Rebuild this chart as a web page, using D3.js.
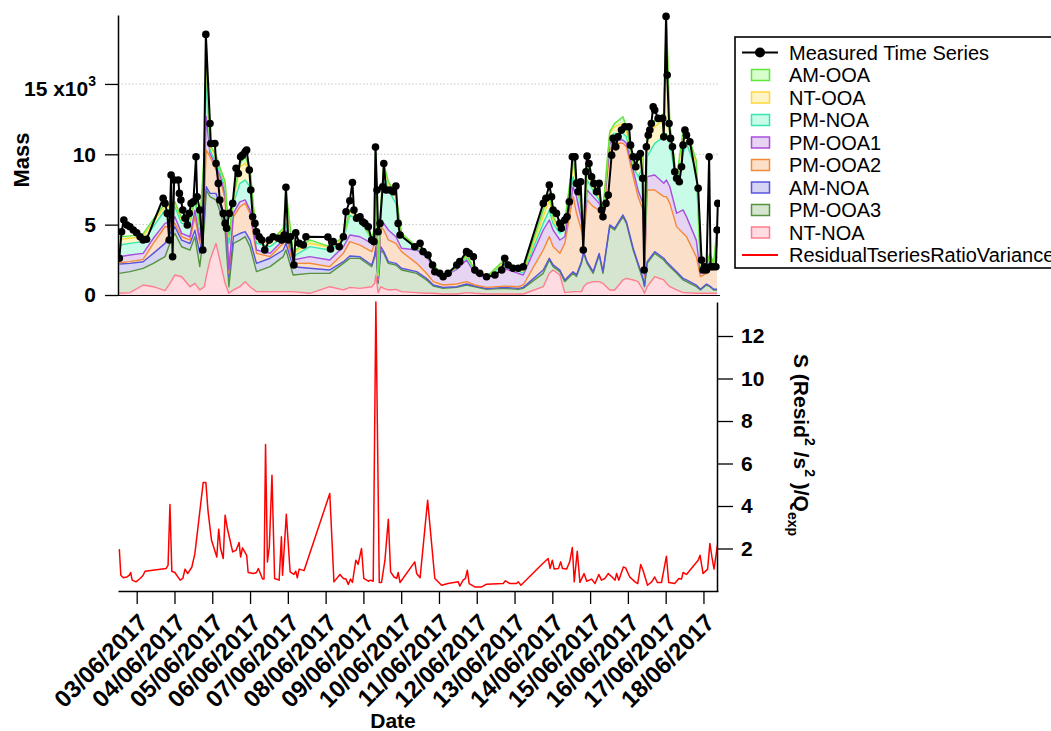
<!DOCTYPE html>
<html><head><meta charset="utf-8">
<script src="https://cdn.jsdelivr.net/npm/d3@7"></script>
<style>
body{margin:0;background:#fff;}
svg{display:block;background:#fff;}
text{font-family:"Liberation Sans",Arial,Helvetica,sans-serif;}
</style></head><body>
<svg id="chart" width="1051" height="731"></svg>
<script>
// ---------------- DATA ----------------
const dateTickLabels = ["03/06/2017","04/06/2017","05/06/2017","06/06/2017","07/06/2017","08/06/2017","09/06/2017","10/06/2017","11/06/2017","12/06/2017","13/06/2017","14/06/2017","15/06/2017","16/06/2017","17/06/2017","18/06/2017"];
const massTicks = [0, 5, 10, 15];
const residTicks = [2, 4, 6, 8, 10, 12];

// time (day of June 2017, fractional) for factor contributions
const layerDays = [2.54,2.82,3.17,3.44,3.75,3.88,4.01,4.19,4.41,4.54,
4.67,4.79,4.84,4.94,5.10,5.22,5.34,5.44,5.56,5.73,
5.87,6.00,6.17,6.53,6.88,6.95,7.14,7.58,8.11,8.47,
8.64,8.91,9.22,9.30,9.33,9.39,9.46,9.54,9.66,9.86,
10.01,10.41,10.67,10.85,11.11,11.47,11.73,11.95,12.26,12.74,
13.10,13.23,13.76,13.92,14.02,14.20,14.33,14.55,14.64,14.77,
14.83,14.92,15.08,15.24,15.34,15.52,15.65,15.87,15.96,16.14,
16.27,16.40,16.44,16.51,16.71,16.95,17.02,17.11,17.29,17.46,
17.55,17.81,17.92,18.08,18.17,18.27,18.36];

// factor mass (x10^3)
const ntNOA = [0.12,0.17,0.71,0.59,0.31,0.83,1.42,1.30,0.59,0.83,
0.36,0.59,1.30,2.49,3.67,2.25,0.83,0.12,0.36,0.59,
0.95,0.59,0.24,0.24,0.24,0.24,0.24,0.12,0.59,0.36,
0.54,0.47,0.59,0.83,1.42,0.17,0.59,0.47,0.36,0.40,
0.24,0.17,0.12,0.12,0.07,0.07,0.17,0.12,0.07,0.07,
0.07,0.07,0.59,1.54,1.78,1.42,0.17,0.24,0.24,0.24,
0.59,0.83,0.95,0.95,0.83,0.36,0.36,1.07,1.18,1.07,
0.95,0.36,0.12,0.59,1.30,1.07,0.83,0.59,0.36,0.17,
0.17,0.12,0.12,0.12,0.12,0.12,0.12];
const pmOOA3 = [1.42,1.49,1.18,1.66,2.41,2.84,2.96,2.13,2.60,3.31,
1.66,4.26,6.16,4.50,3.08,3.55,3.79,0.47,3.31,3.31,
3.20,2.84,1.42,1.78,2.49,2.96,1.18,1.42,0.95,1.89,
2.06,2.13,1.42,1.89,1.89,0.66,2.60,2.49,1.89,1.73,
1.54,1.37,0.95,0.52,0.40,0.47,0.54,0.47,0.33,0.40,
0.33,0.40,0.95,0.95,0.24,0.24,0.78,1.30,1.07,2.01,
2.37,1.42,0.59,1.89,0.71,4.50,4.26,4.50,3.91,2.13,
1.18,0.71,0.47,1.66,1.66,1.42,1.42,1.42,1.18,0.90,
0.78,0.47,0.24,0.59,0.47,0.24,0.24];
const amNOA = [0.66,0.59,0.47,0.71,0.95,0.71,0.47,0.47,0.47,0.47,
0.95,0.71,0.24,0.24,0.47,0.47,0.71,0.71,0.47,0.47,
0.36,0.47,0.59,0.59,0.47,0.47,0.59,0.36,0.24,0.12,
0.17,0.12,0.12,0.12,0.12,0.12,0.24,0.12,0.12,0.12,
0.12,0.12,0.12,0.07,0.07,0.05,0.07,0.05,0.05,0.07,
0.07,0.07,0.24,0.12,0.12,0.12,0.12,0.12,0.12,0.12,
0.12,0.12,0.12,0.12,0.12,0.12,0.12,0.12,0.12,0.12,
0.12,0.12,0.05,0.12,0.12,0.12,0.12,0.12,0.12,0.12,
0.12,0.12,0.05,0.07,0.05,0.05,0.05];
const pmOOA2 = [0.09,0.12,0.17,0.71,1.18,0.47,0.24,0.24,0.24,0.95,
0.71,1.42,2.60,2.60,1.66,1.89,1.42,0.24,1.42,1.89,
2.01,1.89,0.71,0.12,0.47,0.47,0.24,0.36,0.24,0.59,
1.02,0.83,0.95,0.83,1.42,0.12,1.42,1.54,1.54,1.42,
1.18,0.59,0.36,0.24,0.17,0.19,0.17,0.07,0.09,0.09,
0.12,0.17,1.42,1.54,1.30,1.18,2.60,5.33,4.38,2.25,
0.83,4.38,4.62,3.08,3.67,5.33,6.04,5.09,5.33,5.09,
4.73,4.85,0.66,5.09,4.38,4.38,4.62,4.38,3.20,3.20,
3.08,2.01,0.90,0.76,1.61,1.37,2.32];
const pmOOA1 = [0.43,0.47,0.43,0.36,0.24,0.36,0.47,0.24,0.24,0.47,
0.24,0.71,2.37,0.24,0.24,0.24,0.36,0.24,0.24,0.36,
0.24,0.24,0.24,0.24,0.24,0.47,0.24,0.47,0.47,0.47,
0.47,0.59,0.59,0.24,0.47,0.12,0.24,0.47,0.71,0.47,
0.24,0.95,1.18,1.07,0.59,1.04,1.54,0.83,0.64,1.25,
0.95,0.71,1.42,1.18,1.18,0.95,0.47,0.71,1.18,0.71,
0.24,0.71,0.71,0.47,0.24,0.47,0.24,0.24,0.24,0.47,
0.47,0.47,0.12,0.95,1.07,0.95,1.18,1.18,0.95,1.66,
1.42,1.18,0.24,0.24,0.12,0.24,0.95];
const pmNOA = [0.83,0.83,0.83,0.83,0.95,0.83,0.71,0.71,0.95,0.71,
0.71,1.42,2.84,0.24,0.24,0.24,0.47,1.89,0.71,1.30,
1.42,1.66,0.47,0.47,0.24,0.47,0.24,0.71,0.71,0.47,
1.42,1.18,0.24,0.71,4.26,0.12,0.95,3.55,2.84,2.37,
0.83,0.12,0.12,0.09,0.05,0.09,0.19,0.12,0.07,0.36,
0.14,0.17,0.47,0.71,0.47,0.47,0.71,0.71,0.71,0.71,
0.24,0.71,0.47,0.24,0.24,0.47,0.47,0.47,0.47,0.24,
0.95,2.60,0.12,1.42,2.25,3.31,3.31,3.08,2.13,4.02,
5.21,4.97,0.47,0.24,0.36,0.12,0.24];
const ntOOA = [0.40,0.36,0.36,0.36,0.24,0.24,0.24,0.24,0.24,0.12,
0.24,0.71,1.66,0.24,0.47,0.24,0.36,0.47,0.24,1.18,
1.18,1.18,0.24,0.24,0.47,0.95,0.24,0.24,0.19,0.12,
0.24,0.12,0.05,0.12,0.47,0.12,0.24,0.47,0.47,0.47,
0.12,0.07,0.05,0.02,0.02,0.05,0.09,0.07,0.02,0.19,
0.07,0.09,0.47,0.71,0.24,0.24,0.24,0.95,0.12,0.24,
0.12,0.71,0.12,0.24,0.12,0.24,0.47,0.71,0.47,0.24,
0.71,0.71,0.12,1.42,1.18,1.18,7.81,1.18,0.24,1.18,
0.71,0.47,0.12,0.07,0.12,0.07,0.47];
const amOOA = [0.19,0.17,0.19,0.17,0.24,0.12,0.12,0.12,0.12,0.12,
0.12,0.47,0.95,0.12,0.12,0.05,0.12,0.12,0.12,0.24,
0.47,0.12,0.12,0.12,0.12,1.42,0.12,0.24,0.05,0.12,
0.12,0.12,0.05,0.12,0.24,0.12,0.24,0.24,0.12,0.24,
0.12,0.05,0.07,0.02,0.02,0.05,0.07,0.05,0.02,0.09,
0.07,0.09,0.47,0.47,0.24,0.12,0.12,0.47,0.12,0.24,
0.12,0.47,0.12,0.24,0.12,0.12,0.24,0.47,0.24,0.12,
0.47,0.24,0.12,0.24,0.47,0.47,0.59,0.24,0.12,0.47,
0.24,0.24,0.12,0.05,0.12,0.05,0.47];

// measured time series (x10^3)
const measDays = [2.54,2.60,2.66,2.74,2.82,2.91,3.00,3.09,3.17,3.26,
3.70,3.75,3.81,3.86,3.91,3.95,3.99,4.10,4.13,4.17,
4.22,4.28,4.34,4.39,4.44,4.50,4.57,4.60,4.67,4.75,
4.83,4.94,4.96,5.07,5.10,5.16,5.20,5.29,5.34,5.38,
5.45,5.54,5.63,5.69,5.75,5.80,5.87,5.91,5.98,6.02,
6.07,6.13,6.17,6.24,6.31,6.39,6.51,6.61,6.75,6.84,
6.90,6.95,7.01,7.07,7.16,7.21,7.30,7.41,7.48,8.06,
8.13,8.20,8.36,8.47,8.54,8.64,8.71,8.75,8.82,8.91,
8.98,9.04,9.13,9.22,9.28,9.32,9.36,9.39,9.44,9.51,
9.54,9.60,9.70,9.79,9.86,9.92,9.97,10.36,10.50,10.58,
10.71,10.83,10.89,11.02,11.11,11.24,11.47,11.55,11.73,11.80,
11.91,11.95,12.08,12.26,12.48,12.66,12.74,12.83,12.96,13.10,
13.23,13.76,13.83,13.92,13.98,14.02,14.11,14.20,14.24,14.33,
14.39,14.45,14.53,14.60,14.64,14.68,14.75,14.82,14.89,14.92,
14.97,15.04,15.10,15.17,15.24,15.30,15.34,15.42,15.48,15.57,
15.61,15.68,15.74,15.83,15.92,16.03,16.07,16.14,16.21,16.27,
16.33,16.39,16.43,16.49,16.54,16.58,16.62,16.67,16.71,16.80,
16.92,16.95,17.01,17.04,17.09,17.13,17.18,17.24,17.29,17.36,
17.42,17.46,17.51,17.55,17.64,17.86,17.95,17.99,18.03,18.08,
18.15,18.19,18.25,18.33,18.36,18.38];
const measMass = [2.61,4.50,5.33,4.97,4.85,4.62,4.42,4.14,3.91,3.96,
6.87,6.51,5.80,3.91,8.52,2.72,8.17,8.17,7.22,6.75,
6.04,5.45,4.97,5.80,6.51,6.63,9.82,6.98,6.04,3.20,
18.52,12.19,10.77,10.77,9.35,7.93,6.75,5.80,5.09,4.74,
5.80,6.51,9.00,8.64,9.82,9.94,10.18,10.30,8.88,7.46,
5.56,5.09,4.50,4.14,3.91,3.20,3.91,4.14,4.03,3.91,
4.26,7.65,3.91,4.14,2.13,4.42,3.67,3.55,4.14,4.12,
3.27,3.79,3.43,4.14,5.92,6.70,8.00,6.04,5.45,5.56,
5.21,5.09,4.85,3.91,3.79,10.51,7.46,4.50,5.09,7.69,
9.35,7.46,7.46,7.34,7.74,5.09,4.26,3.43,3.67,3.08,
2.84,2.13,1.65,1.54,1.30,1.54,2.13,2.37,3.08,2.96,
2.72,1.78,1.54,1.30,1.42,1.78,2.61,2.13,1.90,1.90,
2.01,6.51,6.87,7.81,6.98,6.04,5.80,5.09,4.74,5.33,
5.56,6.63,9.82,9.82,7.93,7.34,8.05,3.20,8.76,9.87,
9.35,8.40,7.93,7.34,7.93,6.04,5.56,6.51,7.10,9.94,
11.13,10.53,11.24,11.72,11.95,11.95,10.65,9.82,9.11,9.82,
10.06,8.29,1.78,10.53,11.36,11.72,12.19,13.37,13.14,12.55,
12.55,11.24,19.80,15.63,12.19,11.13,10.53,8.76,8.29,8.05,
9.11,10.65,11.72,11.36,10.89,7.58,2.49,1.78,2.01,1.78,
9.82,2.01,2.01,2.01,4.62,6.51];

// residual ratio variance
const residDays = [2.54,2.58,2.65,2.74,2.80,2.84,2.88,2.98,3.09,3.17,
3.22,3.78,3.83,3.88,3.93,4.01,4.15,4.22,4.28,4.35,
4.46,4.54,4.76,4.83,4.89,4.98,5.12,5.17,5.22,5.29,
5.34,5.40,5.54,5.63,5.71,5.75,5.80,5.91,5.95,6.09,
6.17,6.22,6.33,6.37,6.41,6.46,6.51,6.58,6.65,6.77,
6.83,6.86,6.96,7.06,7.16,7.21,7.25,7.30,7.43,8.11,
8.22,8.38,8.47,8.54,8.60,8.66,8.71,8.80,8.86,8.95,
9.01,9.13,9.19,9.26,9.33,9.42,9.48,9.57,9.66,9.72,
9.81,9.88,9.92,9.97,10.36,10.41,10.50,10.70,10.76,10.89,
11.07,11.24,11.51,11.55,11.64,11.70,11.75,11.80,11.95,12.13,
12.26,12.70,12.76,12.88,13.05,13.10,13.17,13.72,13.89,13.94,
14.00,14.05,14.16,14.22,14.27,14.38,14.42,14.46,14.53,14.58,
14.66,14.73,14.84,14.91,15.04,15.13,15.23,15.30,15.39,15.48,
15.58,15.66,15.70,15.76,15.88,15.94,16.05,16.19,16.26,16.34,
16.40,16.52,16.63,16.71,16.78,16.89,17.02,17.08,17.24,17.35,
17.42,17.46,17.55,17.86,17.91,17.99,18.11,18.17,18.23,18.28,
18.37];
const residVal = [1.97,0.74,0.62,0.66,0.74,0.87,0.51,0.43,0.59,0.74,
0.93,1.06,1.21,4.07,0.93,0.87,0.51,0.59,1.03,0.82,
1.13,1.76,5.11,5.11,3.72,2.39,1.60,2.91,2.00,1.53,
3.57,2.94,1.84,1.92,2.28,1.60,2.03,1.68,0.87,0.82,
0.87,1.06,0.56,0.56,6.89,1.37,2.08,5.45,0.59,0.51,
2.55,0.74,3.61,0.90,0.78,0.93,0.62,1.03,0.96,4.59,
0.43,0.78,0.59,0.56,0.31,0.56,0.40,1.45,1.25,2.00,
0.59,0.46,0.51,0.46,13.6,0.40,0.40,1.45,3.38,0.90,
0.66,0.59,0.87,0.40,1.37,0.82,0.62,4.27,3.10,0.59,
0.27,0.35,0.43,0.23,0.51,0.59,0.98,0.35,0.19,0.19,
0.32,0.35,0.48,0.35,0.35,0.43,0.27,1.25,1.53,1.06,
1.45,1.03,1.06,1.37,1.06,1.03,1.21,1.37,2.05,0.43,
1.87,0.40,0.82,0.46,0.56,0.35,0.78,0.51,0.59,0.82,
0.66,0.51,0.82,0.51,1.13,1.09,0.66,0.43,0.35,1.25,
0.98,0.27,0.43,0.66,0.40,0.40,1.64,0.40,0.35,0.59,
0.56,0.87,0.78,1.45,1.68,0.82,1.03,2.24,1.53,1.03,
2.16];

// ---------------- STYLE ----------------
const layerStyle = [
  {key:"ntNOA",  name:"NT-NOA",  vals:ntNOA,  fill:"#ffdbe2", stroke:"#ff7d8f"},
  {key:"pmOOA3", name:"PM-OOA3", vals:pmOOA3, fill:"#d6e5cf", stroke:"#55933f"},
  {key:"amNOA",  name:"AM-NOA",  vals:amNOA,  fill:"#d5d5f3", stroke:"#5555dd"},
  {key:"pmOOA2", name:"PM-OOA2", vals:pmOOA2, fill:"#fcdfc8", stroke:"#f38a3a"},
  {key:"pmOOA1", name:"PM-OOA1", vals:pmOOA1, fill:"#e6d4f2", stroke:"#a94ddc"},
  {key:"pmNOA",  name:"PM-NOA",  vals:pmNOA,  fill:"#c9fbe9", stroke:"#33e8b0"},
  {key:"ntOOA",  name:"NT-OOA",  vals:ntOOA,  fill:"#fff4c6", stroke:"#ffd83a"},
  {key:"amOOA",  name:"AM-OOA",  vals:amOOA,  fill:"#d6ffcc", stroke:"#5ee63a"}
];
const FONT = '"Liberation Sans",Arial,Helvetica,sans-serif';

// ---------------- CHART ----------------
const svg = d3.select("#chart");
const dayMs = 864e5;
const toDate = d => new Date(Date.UTC(2017, 5, 1) + (d - 1) * dayMs);
const parseTick = d3.utcParse("%d/%m/%Y");

const X0 = 118, X1 = 718;
const x = d3.scaleUtc().domain([toDate(2.505), toDate(18.385)]).range([X0, X1]);
const yT = d3.scaleLinear().domain([0, 19.9]).range([295, 15]);
const yB = d3.scaleLinear().domain([0, 13.6]).range([591, 302]);

const defs = svg.append("defs");
defs.append("clipPath").attr("id","clipTop").append("rect").attr("x",X0).attr("y",0).attr("width",X1-X0+2).attr("height",296);
defs.append("clipPath").attr("id","clipBot").append("rect").attr("x",X0).attr("y",297).attr("width",X1-X0).attr("height",296);

// gridlines (top)
svg.append("g").selectAll("line").data(massTicks.filter(d=>d>0)).join("line")
  .attr("x1", X0).attr("x2", 720).attr("y1", d=>yT(d)).attr("y2", d=>yT(d))
  .attr("stroke", "#c4c4c4").attr("stroke-width", 1).attr("stroke-dasharray", "1.5,2");

// stacked factors
const n = Math.min(layerDays.length, ...layerStyle.map(l => l.vals.length));
const rows = d3.range(n).map(i => {
  const r = {t: toDate(layerDays[i])};
  layerStyle.forEach(l => r[l.key] = l.vals[i]);
  return r;
});
const stacked = d3.stack().keys(layerStyle.map(l => l.key))(rows);
const area = d3.area().x(d => x(d.data.t)).y0(d => yT(d[0])).y1(d => yT(d[1]));
const topLine = d3.line().x(d => x(d.data.t)).y(d => yT(d[1]));

const gTop = svg.append("g").attr("clip-path","url(#clipTop)");
gTop.selectAll("path.area").data(stacked).join("path").attr("class","area")
  .attr("d", area).attr("fill", (d,i) => layerStyle[i].fill).attr("stroke","none");
gTop.selectAll("path.edge").data(stacked).join("path").attr("class","edge")
  .attr("d", topLine).attr("fill","none").attr("stroke", (d,i) => layerStyle[i].stroke)
  .attr("stroke-width", 1.4).attr("stroke-linejoin","round");

// measured series
const meas = d3.range(Math.min(measDays.length, measMass.length)).map(i => ({t: toDate(measDays[i]), v: measMass[i]}));
gTop.append("path").datum(meas)
  .attr("d", d3.line().x(d => x(d.t)).y(d => yT(d.v)))
  .attr("fill","none").attr("stroke","#000").attr("stroke-width",2).attr("stroke-linejoin","round");
gTop.selectAll("circle").data(meas).join("circle")
  .attr("cx", d => x(d.t)).attr("cy", d => yT(d.v)).attr("r", 3.8).attr("fill","#000");

// top axes
svg.append("line").attr("x1",X0).attr("x2",X1+2).attr("y1",295.5).attr("y2",295.5).attr("stroke","#000").attr("stroke-width",1.2);
const axL = svg.append("g").attr("transform",`translate(${X0},0)`)
  .call(d3.axisLeft(yT).tickValues(massTicks).tickSize(13).tickSizeOuter(0).tickPadding(9)
    .tickFormat(d => d === 15 ? "15 x10" : d));
axL.select(".domain").attr("stroke","#000").attr("stroke-width",1.5);
axL.selectAll(".tick line").attr("stroke","#000").attr("stroke-width",1.3);
axL.selectAll("text").attr("font-family",FONT).attr("font-size",21).attr("font-weight","bold").attr("fill","#000");
axL.selectAll(".tick").filter(d => d === 15).select("text").attr("dy","0.55em")
  .append("tspan").attr("font-size",14).attr("dy","-0.75em").text("3");
svg.append("text").attr("transform","translate(29,160) rotate(-90)").attr("text-anchor","middle")
  .attr("font-family",FONT).attr("font-size",22).attr("font-weight","bold").text("Mass");

// residual
const gBot = svg.append("g").attr("clip-path","url(#clipBot)");
const res = d3.range(Math.min(residDays.length, residVal.length)).map(i => ({t: toDate(residDays[i]), v: residVal[i]}));
gBot.append("path").datum(res)
  .attr("d", d3.line().x(d => x(d.t)).y(d => yB(d.v)))
  .attr("fill","none").attr("stroke","#ff0000").attr("stroke-width",1.5).attr("stroke-linejoin","round");

// bottom x axis
const axB = svg.append("g").attr("transform","translate(0,591)")
  .call(d3.axisBottom(x).tickValues(dateTickLabels.map(parseTick)).tickSize(13).tickSizeOuter(0)
    .tickFormat(d3.utcFormat("%d/%m/%Y")));
axB.select(".domain").attr("stroke","#000").attr("stroke-width",1.5);
axB.selectAll(".tick line").attr("stroke","#000").attr("stroke-width",1.3);
axB.selectAll("text").attr("font-family",FONT).attr("font-size",24).attr("font-weight","bold").attr("fill","#000")
  .attr("text-anchor","end").attr("x",12).attr("y",33).attr("dy",null)
  .attr("transform","rotate(-45,12,33)");
svg.append("text").attr("x",393).attr("y",728).attr("text-anchor","middle")
  .attr("font-family",FONT).attr("font-size",21).attr("font-weight","bold").text("Date");

// right axis
const axR = svg.append("g").attr("transform","translate(717,0)")
  .call(d3.axisRight(yB).tickValues(residTicks).tickSize(16).tickSizeOuter(0).tickPadding(8));
axR.select(".domain").attr("stroke","#000").attr("stroke-width",1.5);
axR.selectAll(".tick line").attr("stroke","#000").attr("stroke-width",1.3);
axR.selectAll("text").attr("font-family",FONT).attr("font-size",21).attr("font-weight","bold").attr("fill","#000");

const rt = svg.append("text").attr("transform","translate(794,445) rotate(90)").attr("text-anchor","middle")
  .attr("font-family",FONT).attr("font-size",21).attr("font-weight","bold");
rt.append("tspan").text("S (Resid");
rt.append("tspan").attr("font-size",14).attr("dy","-0.75em").text("2");
rt.append("tspan").attr("dy","0.5em").text(" /s");
rt.append("tspan").attr("font-size",14).attr("dy","-0.75em").text("2");
rt.append("tspan").attr("dy","0.5em").text(" )/Q");
rt.append("tspan").attr("font-size",14).attr("dy","0.45em").text("exp");

// legend
const lg = svg.append("g");
lg.append("rect").attr("x",735).attr("y",37).attr("width",330).attr("height",231)
  .attr("fill","#fff").attr("stroke","#000").attr("stroke-width",1.6);
const legendItems = [{type:"meas", name:"Measured Time Series"}]
  .concat(layerStyle.slice().reverse().map(l => ({type:"area", name:l.name, fill:l.fill, stroke:l.stroke})))
  .concat([{type:"resid", name:"ResidualTseriesRatioVariance"}]);
legendItems.forEach((it, i) => {
  const cy = 52.5 + i * 22.5;
  if (it.type === "meas") {
    lg.append("line").attr("x1",742).attr("x2",778).attr("y1",cy).attr("y2",cy).attr("stroke","#000").attr("stroke-width",2);
    lg.append("circle").attr("cx",760).attr("cy",cy).attr("r",5).attr("fill","#000");
  } else if (it.type === "area") {
    lg.append("rect").attr("x",751.5).attr("y",cy-5.5).attr("width",18).attr("height",11)
      .attr("fill",it.fill).attr("stroke",it.stroke).attr("stroke-width",1.5);
  } else {
    lg.append("line").attr("x1",742).attr("x2",778).attr("y1",cy).attr("y2",cy).attr("stroke","#ff0000").attr("stroke-width",2);
  }
  lg.append("text").attr("x",789).attr("y",cy).attr("dy","0.36em")
    .attr("font-family",FONT).attr("font-size",20).attr("fill","#000").text(it.name);
});
</script>
</body></html>
